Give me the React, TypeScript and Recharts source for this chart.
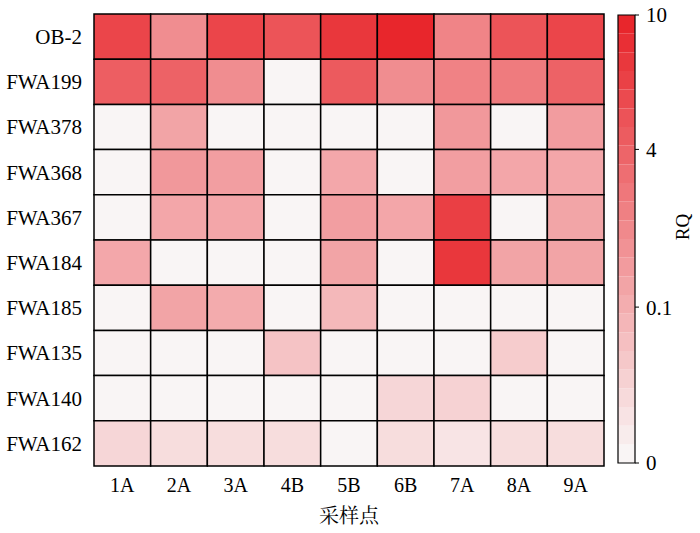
import React from 'react';
import { ComposedChart, XAxis, YAxis, ReferenceArea, Scatter } from 'recharts';

const sites = ['1A', '2A', '3A', '4B', '5B', '6B', '7A', '8A', '9A'];
const compounds = ['OB-2', 'FWA199', 'FWA378', 'FWA368', 'FWA367', 'FWA184', 'FWA185', 'FWA135', 'FWA140', 'FWA162'];

const rqOB2 = [7, 1.8, 7, 5.6, 8.4, 10, 2.3, 5.6, 7];
const rqFWA199 = [4.6, 4.2, 1.8, 0, 5, 1.8, 2.4, 2.8, 4.2];
const rqFWA378 = [0, 0.6, 0, 0, 0, 0, 1.2, 0, 1.0];
const rqFWA368 = [0, 1.2, 0.9, 0, 0.4, 0, 0.9, 0.45, 0.45];
const rqFWA367 = [0, 0.45, 0.45, 0, 0.9, 0.45, 7.6, 0, 0.55];
const rqFWA184 = [0.4, 0, 0, 0, 0.6, 0, 8.4, 0.6, 0.6];
const rqFWA185 = [0, 0.6, 0.2, 0, 0.085, 0, 0, 0, 0];
const rqFWA135 = [0, 0, 0, 0.069, 0, 0, 0, 0.057, 0];
const rqFWA140 = [0, 0, 0, 0, 0, 0.043, 0.049, 0, 0];
const rqFWA162 = [0.043, 0.034, 0.034, 0.034, 0, 0.034, 0.023, 0.034, 0.034];

const rqRows = [rqOB2, rqFWA199, rqFWA378, rqFWA368, rqFWA367, rqFWA184, rqFWA185, rqFWA135, rqFWA140, rqFWA162];

const colorbarTickValues = [0, 0.1, 4, 10];
const colorbarTickLabels = ['0', '0.1', '4', '10'];
const colorbarTickPos = [0, 0.348, 0.7, 1];
const colorbarSteps = 24;

const LOW = [249, 245, 245];
const HIGH = [232, 38, 44];

function toFrac(v: number) {
  for (let i = 1; i < colorbarTickValues.length; i++) {
    const a = colorbarTickValues[i - 1];
    const b = colorbarTickValues[i];
    if (v <= b) {
      const pa = colorbarTickPos[i - 1];
      const pb = colorbarTickPos[i];
      return pa + ((v - a) / (b - a)) * (pb - pa);
    }
  }
  return 1;
}

function colorAt(t: number) {
  const c = LOW.map((l, i) => Math.round(l + (HIGH[i] - l) * t));
  return `rgb(${c[0]},${c[1]},${c[2]})`;
}

const FONT = '"Liberation Serif", "Times New Roman", serif';

const dummy = [{ x: 0.5, y: 0.5 }];
const barDummy = [{ x: 0.5, y: 0.5 }];

export default function App() {
  return (
    <div style={{ position: 'absolute', left: 0, top: 0, width: 700, height: 533, background: '#fff' }}>
      <div style={{ position: 'absolute', left: 0, top: 0 }}>
        <ComposedChart width={700} height={533} margin={{ top: 14, right: 96, left: 0, bottom: 0 }}>
          <XAxis
            type="number"
            dataKey="x"
            domain={[0, 9]}
            ticks={sites.map((_, i) => i + 0.5)}
            tickFormatter={(v: number) => sites[Math.floor(v)]}
            interval={0}
            height={67}
            axisLine={false}
            tickLine={false}
            tickSize={0}
            tickMargin={12}
            tick={{ fontFamily: FONT, fontSize: 20, fill: '#000' }}
            label={{
              content: (p: any) => {
                const vb = p.viewBox;
                return (
                  <text x={vb.x + vb.width / 2} y={523} textAnchor="middle" fontFamily={'"Noto Serif CJK SC", "Noto Sans CJK SC", serif'} fontSize={20} fill="#000">
                    采样点
                  </text>
                );
              },
            }}
          />
          <YAxis
            type="number"
            dataKey="y"
            domain={[0, 10]}
            reversed
            width={94}
            ticks={compounds.map((_, i) => i + 0.5)}
            tickFormatter={(v: number) => compounds[Math.floor(v)]}
            interval={0}
            axisLine={false}
            tickLine={false}
            tickSize={0}
            tickMargin={12}
            tick={{ fontFamily: FONT, fontSize: 21, fill: '#000' }}
          />
          <Scatter data={dummy} fill="none" isAnimationActive={false} shape={() => <g />} />
          {rqRows.map((row, r) =>
            row.map((v, c) => (
              <ReferenceArea
                key={`${r}-${c}`}
                x1={c}
                x2={c + 1}
                y1={r}
                y2={r + 1}
                fill={colorAt(toFrac(v))}
                fillOpacity={1}
                stroke="#000"
                strokeWidth={1.5}
                ifOverflow="visible"
              />
            ))
          )}
        </ComposedChart>
      </div>
      <div style={{ position: 'absolute', left: 0, top: 0 }}>
        <ComposedChart width={700} height={533} margin={{ top: 15, right: 0, left: 618, bottom: 70 }}>
          <XAxis type="number" dataKey="x" domain={[0, 1]} hide />
          <YAxis
            type="number"
            dataKey="y"
            orientation="right"
            domain={[0, 1]}
            ticks={colorbarTickPos}
            tickFormatter={(v: number) => colorbarTickLabels[colorbarTickPos.indexOf(v)]}
            interval={0}
            width={65}
            axisLine={false}
            tickLine={{ stroke: '#000', strokeWidth: 1 }}
            tickSize={4}
            tickMargin={7}
            tick={{ fontFamily: FONT, fontSize: 21, fill: '#000' }}
            label={{
              content: (p: any) => {
                const vb = p.viewBox;
                const x = 682;
                const y = vb.y + vb.height / 2 - 12;
                return (
                  <text x={x} y={y} transform={`rotate(-90 ${x} ${y})`} textAnchor="middle" dominantBaseline="central" fontFamily={FONT} fontSize={19} fill="#000">
                    RQ
                  </text>
                );
              },
            }}
          />
          <Scatter data={barDummy} fill="none" isAnimationActive={false} shape={() => <g />} />
          {Array.from({ length: colorbarSteps }, (_, k) => (
            <ReferenceArea
              key={`cb-${k}`}
              x1={0}
              x2={1}
              y1={k / colorbarSteps}
              y2={(k + 1) / colorbarSteps}
              fill={colorAt(k / (colorbarSteps - 1))}
              fillOpacity={1}
              stroke="none"
              ifOverflow="visible"
            />
          ))}
          <ReferenceArea x1={0} x2={1} y1={0} y2={1} fill="none" stroke="#000" strokeWidth={1.2} ifOverflow="visible" />
        </ComposedChart>
      </div>
    </div>
  );
}
